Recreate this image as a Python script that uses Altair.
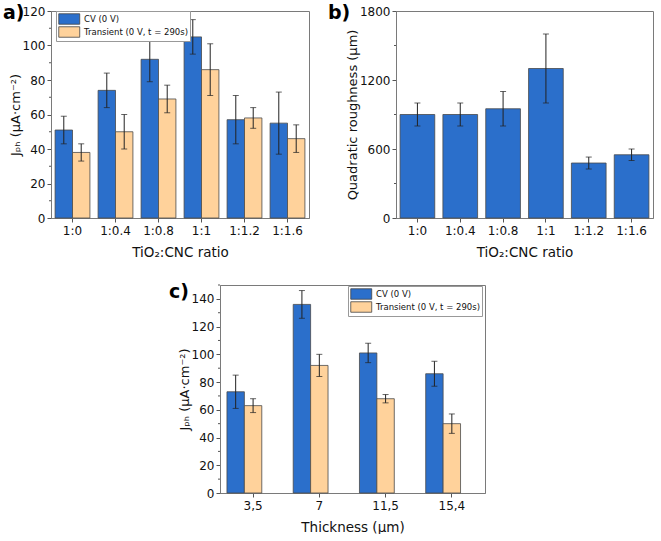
import altair as alt
import pandas as pd

ratios = ["1:0", "1:0.4", "1:0.8", "1:1", "1:1.2", "1:1.6"]
series = ["CV (0 V)", "Transient (0 V, t = 290s)"]
a_cv = [51, 74, 92, 105, 57, 55]
a_cv_err = [8, 10, 13, 10, 14, 18]
a_tr = [38, 50, 69, 86, 58, 46]
a_tr_err = [5, 10, 8, 15, 6, 8]

b_rough = [900, 900, 950, 1300, 478, 550]
b_rough_err = [100, 100, 150, 300, 52, 50]

thick = ["3,5", "7", "11,5", "15,4"]
c_cv = [73, 136, 101, 86]
c_cv_err = [12, 10, 7, 9]
c_tr = [63, 92, 68, 50]
c_tr_err = [5, 8, 3, 7]

a_major = [0, 20, 40, 60, 80, 100, 120]
a_minor = [10, 30, 50, 70, 90, 110]
b_major = [0, 600, 1200, 1800]
b_minor = [300, 900, 1500]
c_major = [0, 20, 40, 60, 80, 100, 120, 140]
c_minor = [10, 30, 50, 70, 90, 110, 130, 150]

BLUE = "#2b6fcb"
ORANGE = "#ffd29b"
FONT = "DejaVu Sans"
YTITLE = "Jₚₕ (μA·cm⁻²)"


def grouped(cats, cv, cve, tr, tre):
    rows = []
    for i, c in enumerate(cats):
        rows.append({"cat": c, "series": series[0], "val": cv[i], "err": cve[i]})
        rows.append({"cat": c, "series": series[1], "val": tr[i], "err": tre[i]})
    return pd.DataFrame(rows)


def yaxis(title, values):
    return alt.Axis(title=title, values=values, tickCount=30, format="d", labelOverlap=False,
                    tickSize=4, grid=False, titlePadding=0, labelPadding=2)


def xaxis(title):
    return alt.Axis(title=title, labelAngle=0, grid=False, tickSize=4, labelPadding=3,
                    titlePadding=9, titleFontSize=13.5)


def minor_ticks(values, ydom, title, major):
    return alt.Chart(pd.DataFrame({"m": values})).mark_rule(color="#555", strokeWidth=1).encode(
        y=alt.Y("m:Q", scale=alt.Scale(domain=ydom, nice=False), axis=yaxis(title, major)),
        x=alt.value(-2), x2=alt.value(0))


def panel_label(txt, dx, dy):
    return alt.Chart(pd.DataFrame({"lab": [txt]})).mark_text(
        align="left", baseline="alphabetic", font=FONT, fontSize=19, fontWeight="bold", color="black"
    ).encode(x=alt.value(dx), y=alt.value(dy), text="lab:N")


def grouped_chart(df, cats, ydom, major, minor, xtitle, w, h, pad_in, legx, legy, lab, ldx, ldy):
    x = alt.X("cat:N", sort=cats, axis=xaxis(xtitle),
              scale=alt.Scale(paddingInner=pad_in, paddingOuter=pad_in / 2))
    xo = alt.XOffset("series:N", sort=series, scale=alt.Scale(paddingInner=0, paddingOuter=0))
    y = alt.Y("val:Q", scale=alt.Scale(domain=ydom, nice=False), axis=yaxis(YTITLE, major))
    base = alt.Chart(df).transform_calculate(lo="datum.val - datum.err", hi="datum.val + datum.err")
    bars = base.mark_bar(stroke="#4a4a4a", strokeWidth=0.8).encode(
        x=x, xOffset=xo, y=y,
        color=alt.Color("series:N", sort=series,
                        scale=alt.Scale(domain=series, range=[BLUE, ORANGE]),
                        legend=alt.Legend(
                            title=None, orient="none", legendX=legx, legendY=legy,
                            symbolType="M-1,-1H3V1H-1Z", symbolSize=110,
                            symbolStrokeColor="#444", symbolStrokeWidth=0.8,
                            labelFont=FONT, labelFontSize=8.5, labelColor="#111",
                            labelOffset=14, rowPadding=-3, padding=2,
                            strokeColor="#999", fillColor="white")),
    )
    rule = base.mark_rule(color="#222", strokeWidth=1).encode(
        x=x, xOffset=xo, y="lo:Q", y2="hi:Q")
    cap_lo = base.mark_tick(color="#222", orient="horizontal", size=6, thickness=1).encode(
        x=x, xOffset=xo, y="lo:Q")
    cap_hi = base.mark_tick(color="#222", orient="horizontal", size=6, thickness=1).encode(
        x=x, xOffset=xo, y="hi:Q")
    return alt.layer(bars, rule, cap_lo, cap_hi, minor_ticks(minor, ydom, YTITLE, major),
                     panel_label(lab, ldx, ldy)).properties(width=w, height=h)


df_a = grouped(ratios, a_cv, a_cv_err, a_tr, a_tr_err)
chart_a = grouped_chart(df_a, ratios, [0, 120], a_major, a_minor,
                        "TiO₂:CNC ratio", 258, 207, 0.19, 5, 0, "a)", -48, 8)

BTITLE = "Quadratic roughness (μm)"
df_b = pd.DataFrame({"cat": ratios, "val": b_rough, "err": b_rough_err})
xb = alt.X("cat:N", sort=ratios, axis=xaxis("TiO₂:CNC ratio"),
           scale=alt.Scale(paddingInner=0.19, paddingOuter=0.095))
yb = alt.Y("val:Q", scale=alt.Scale(domain=[0, 1800], nice=False), axis=yaxis(BTITLE, b_major))
base_b = alt.Chart(df_b).transform_calculate(lo="datum.val - datum.err", hi="datum.val + datum.err")
chart_b = alt.layer(
    base_b.mark_bar(color=BLUE, stroke="#4a4a4a", strokeWidth=0.8).encode(x=xb, y=yb),
    base_b.mark_rule(color="#222").encode(x=xb, y="lo:Q", y2="hi:Q"),
    base_b.mark_tick(color="#222", orient="horizontal", size=6, thickness=1).encode(x=xb, y="lo:Q"),
    base_b.mark_tick(color="#222", orient="horizontal", size=6, thickness=1).encode(x=xb, y="hi:Q"),
    minor_ticks(b_minor, [0, 1800], BTITLE, b_major),
    panel_label("b)", -68, 8),
).properties(width=257, height=207)

df_c = grouped(thick, c_cv, c_cv_err, c_tr, c_tr_err)
chart_c = grouped_chart(df_c, thick, [0, 150], c_major, c_minor,
                        "Thickness (μm)", 265, 208, 0.21, 128, 1, "c)", -51, 13)

spacer = alt.Chart(pd.DataFrame({"v": [0]})).mark_point(opacity=0).encode(
    x=alt.value(0), y=alt.value(0)
).properties(width=117, height=10, view=alt.ViewBackground(stroke=None))

top = alt.hconcat(chart_a, chart_b, spacing=17).resolve_legend(color="independent").resolve_scale(color="independent")
bottom = alt.hconcat(spacer, chart_c, spacing=0).resolve_legend(color="independent")

chart = alt.vconcat(top, bottom, spacing=23).resolve_legend(color="independent").properties(
    padding={"left": 2, "top": 3, "right": 0, "bottom": 0}
).configure_view(stroke="#7a7a7a", strokeWidth=1).configure_axis(
    labelFont=FONT, labelFontSize=12, labelColor="#111",
    titleFont=FONT, titleFontSize=13, titleFontWeight="normal", titleColor="#111",
    domainColor="#7a7a7a", tickColor="#555",
)

chart.save("out.html", embed_options={"renderer": "svg", "actions": False})
